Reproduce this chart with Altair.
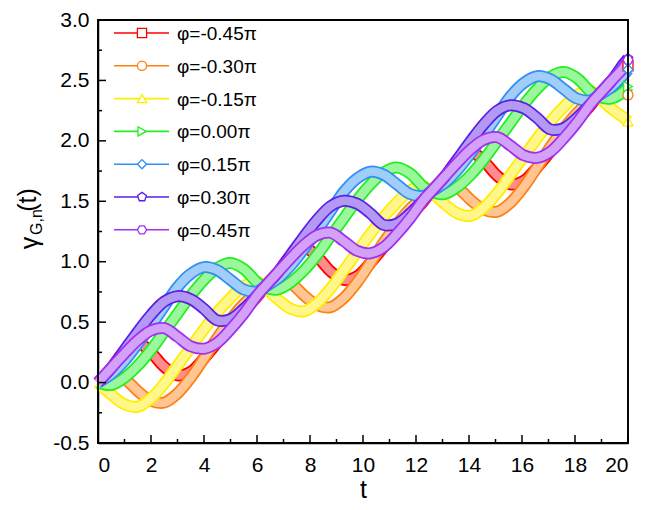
import altair as alt
import pandas as pd

# ---------------- data ----------------
T = [0, 0.5, 1, 1.5, 2, 2.5, 3, 3.5, 4, 4.5, 5, 5.5, 6,
     6.28, 6.78, 7.28, 7.78, 8.28, 8.78, 9.28, 9.78, 10.28, 10.78, 11.28, 11.78, 12.28,
     12.57, 13.07, 13.57, 14.07, 14.57, 15.07, 15.57, 16.07, 16.57, 17.07, 17.57, 18.07, 18.57,
     18.85, 19.35, 19.85, 20.0]

G_m045 = [0, 0.12, 0.26, 0.33, 0.25, 0.13, 0.06, 0.09, 0.20, 0.33, 0.46, 0.59, 0.71,
          0.79, 0.91, 1.05, 1.12, 1.04, 0.92, 0.85, 0.88, 0.99, 1.12, 1.25, 1.38, 1.50,
          1.58, 1.70, 1.84, 1.91, 1.83, 1.71, 1.64, 1.67, 1.78, 1.91, 2.04, 2.17, 2.29,
          2.37, 2.49, 2.60, 2.62]
G_m030 = [0, 0.06, 0.03, -0.07, -0.15, -0.165, -0.09, 0.04, 0.20, 0.37, 0.52, 0.65, 0.75,
          0.79, 0.85, 0.82, 0.72, 0.64, 0.625, 0.70, 0.83, 0.99, 1.16, 1.31, 1.44, 1.54,
          1.58, 1.64, 1.61, 1.51, 1.43, 1.415, 1.49, 1.62, 1.78, 1.95, 2.10, 2.23, 2.33,
          2.37, 2.43, 2.40, 2.38]
G_m015 = [0, -0.10, -0.18, -0.20, -0.13, -0.01, 0.14, 0.29, 0.44, 0.58, 0.70, 0.80, 0.835,
          0.79, 0.69, 0.61, 0.59, 0.66, 0.78, 0.93, 1.08, 1.23, 1.37, 1.49, 1.59, 1.625,
          1.58, 1.48, 1.40, 1.38, 1.45, 1.57, 1.72, 1.87, 2.02, 2.16, 2.28, 2.38, 2.415,
          2.37, 2.27, 2.19, 2.16]
G_000 = [0, -0.02, 0.04, 0.14, 0.27, 0.42, 0.57, 0.72, 0.85, 0.95, 0.99, 0.94, 0.83,
         0.79, 0.77, 0.83, 0.93, 1.06, 1.21, 1.36, 1.51, 1.64, 1.74, 1.78, 1.73, 1.62,
         1.58, 1.56, 1.62, 1.72, 1.85, 2.00, 2.15, 2.30, 2.43, 2.53, 2.57, 2.52, 2.41,
         2.37, 2.35, 2.41, 2.45]
G_015 = [0, 0.07, 0.18, 0.32, 0.47, 0.63, 0.79, 0.90, 0.955, 0.93, 0.85, 0.77, 0.755,
         0.79, 0.86, 0.97, 1.11, 1.26, 1.42, 1.58, 1.69, 1.745, 1.72, 1.64, 1.56, 1.545,
         1.58, 1.65, 1.76, 1.90, 2.05, 2.21, 2.37, 2.48, 2.535, 2.51, 2.43, 2.35, 2.335,
         2.37, 2.44, 2.55, 2.59]
G_030 = [0, 0.12, 0.27, 0.42, 0.56, 0.67, 0.715, 0.69, 0.61, 0.515, 0.525, 0.61, 0.72,
         0.79, 0.91, 1.06, 1.21, 1.35, 1.46, 1.505, 1.48, 1.40, 1.305, 1.315, 1.40, 1.51,
         1.58, 1.70, 1.85, 2.00, 2.14, 2.25, 2.295, 2.27, 2.19, 2.095, 2.105, 2.19, 2.30,
         2.37, 2.49, 2.64, 2.68]
G_045 = [0, 0.12, 0.24, 0.35, 0.43, 0.45, 0.38, 0.30, 0.28, 0.33, 0.44, 0.57, 0.72,
         0.79, 0.91, 1.03, 1.14, 1.22, 1.24, 1.17, 1.09, 1.07, 1.12, 1.23, 1.36, 1.51,
         1.58, 1.70, 1.82, 1.93, 2.01, 2.03, 1.96, 1.88, 1.86, 1.91, 2.02, 2.15, 2.30,
         2.37, 2.49, 2.61, 2.67]

labels = ["φ=-0.45π", "φ=-0.30π", "φ=-0.15π", "φ=0.00π", "φ=0.15π", "φ=0.30π", "φ=0.45π"]
series = [G_m045, G_m030, G_m015, G_000, G_015, G_030, G_045]

X_MAJOR = [0, 2, 4, 6, 8, 10, 12, 14, 16, 18, 20]
X_MINOR = [1, 3, 5, 7, 9, 11, 13, 15, 17, 19]
Y_MAJOR = [-0.5, 0.0, 0.5, 1.0, 1.5, 2.0, 2.5, 3.0]
Y_MINOR = [-0.25, 0.25, 0.75, 1.25, 1.75, 2.25, 2.75]

# ---------------- style ----------------
colors = ["#FF0000", "#FF7F10", "#FFEE00", "#22EE22", "#3090F5", "#5A1EE6", "#A030F0"]
PENT = "M0,-1L0.951,-0.309L0.588,0.809L-0.588,0.809L-0.951,-0.309Z"
HEX = "M-0.5,-0.866L0.5,-0.866L1,0L0.5,0.866L-0.5,0.866L-1,0Z"
shapes = ["square", "circle", "triangle-up", "triangle-right", "diamond", PENT, HEX]

FONT = "Liberation Sans"
W, H = 530, 423
MAJ, MIN = 8, 4

xscale = alt.Scale(domain=[0, 20], nice=False, zero=False)
yscale = alt.Scale(domain=[-0.5, 3.0], nice=False, zero=False)

xaxis = alt.Axis(title="t", values=X_MAJOR, format="d", ticks=False, grid=False,
                 domain=True, domainColor="#000000", domainWidth=1.5,
                 labelFontSize=21, labelFont=FONT, labelColor="#000000", labelPadding=11,
                 titleFontSize=25, titleFont=FONT, titleFontWeight="normal",
                 titleColor="#000000", titlePadding=2)
yaxis = alt.Axis(title=None, values=Y_MAJOR, ticks=False, grid=False,
                 labelExpr="datum.value < 0 ? '-' + format(-datum.value, '.1f') : format(datum.value, '.1f')",
                 domain=True, domainColor="#000000", domainWidth=1.5,
                 labelFontSize=21, labelFont=FONT, labelColor="#000000", labelPadding=9)

layers = []
for col, vals in zip(colors, series):
    df = pd.DataFrame({"t": T, "g": vals})
    base = alt.Chart(df).encode(
        x=alt.X("t:Q", scale=xscale, axis=xaxis),
        y=alt.Y("g:Q", scale=yscale, axis=yaxis),
    )
    layers.append(base.mark_line(color=col, strokeWidth=12, interpolate="catmull-rom",
                                 strokeJoin="round"))
    layers.append(base.mark_line(color="white", strokeWidth=8.5, opacity=0.55,
                                 interpolate="catmull-rom", strokeJoin="round"))

# end markers at t = 20
for col, shp, vals in zip(colors, shapes, series):
    df = pd.DataFrame({"t": [T[-1]], "g": [vals[-1]]})
    layers.append(alt.Chart(df).mark_point(shape=shp, filled=True, fill="white", stroke=col,
                                           strokeWidth=1.3, size=100, opacity=1).encode(
        x=alt.X("t:Q", scale=xscale, axis=xaxis),
        y=alt.Y("g:Q", scale=yscale, axis=yaxis)))

# inward ticks (major and minor)
def xticks(vals, length):
    return alt.Chart(pd.DataFrame({"v": vals})).mark_tick(
        color="#000000", thickness=1.5, size=length, yOffset=-length / 2, opacity=1).encode(
        x=alt.X("v:Q", scale=xscale, axis=xaxis), y=alt.value(H))

def yticks(vals, length):
    return alt.Chart(pd.DataFrame({"v": vals})).mark_tick(
        color="#000000", thickness=1.5, size=length, xOffset=length / 2, opacity=1,
        orient="horizontal").encode(
        y=alt.Y("v:Q", scale=yscale, axis=yaxis), x=alt.value(0))

layers += [xticks(X_MAJOR, MAJ), xticks(X_MINOR, MIN), yticks(Y_MAJOR, MAJ), yticks(Y_MINOR, MIN)]

# frame
layers.append(alt.Chart(pd.DataFrame({"k": [0]})).mark_rect(
    fill="white", fillOpacity=0, stroke="#000000", strokeWidth=1.8, opacity=1).encode(
    x=alt.value(0), x2=alt.value(W), y=alt.value(0), y2=alt.value(H)))

# legend (top-left, inside the frame)
LEG_Y0, LEG_DY = 13, 32.8
for i, (lab, col, shp) in enumerate(zip(labels, colors, shapes)):
    yy = LEG_Y0 + i * LEG_DY
    d = pd.DataFrame({"label": [lab]})
    layers.append(alt.Chart(d).mark_rule(color=col, strokeWidth=1.6).encode(
        x=alt.value(16), x2=alt.value(71), y=alt.value(yy)))
    layers.append(alt.Chart(d).mark_point(shape=shp, filled=True, fill="white", stroke=col,
                                          strokeWidth=1.3, size=85, opacity=1).encode(
        x=alt.value(44), y=alt.value(yy)))
    layers.append(alt.Chart(d).mark_text(align="left", baseline="middle", fontSize=19,
                                         font=FONT, color="black").encode(
        x=alt.value(79), y=alt.value(yy + 1), text="label:N"))

# y-axis title gamma_{G,n}(t)
layers.append(alt.Chart(pd.DataFrame({"s": ["γ"]})).mark_text(
    angle=270, fontSize=25, font=FONT, color="black", align="center", baseline="middle").encode(
    x=alt.value(-68), y=alt.value(223), text="s:N"))
layers.append(alt.Chart(pd.DataFrame({"s": ["G,n"]})).mark_text(
    angle=270, fontSize=16, font=FONT, color="black", align="center", baseline="middle").encode(
    x=alt.value(-61), y=alt.value(202), text="s:N"))
layers.append(alt.Chart(pd.DataFrame({"s": ["(t)"]})).mark_text(
    angle=270, fontSize=25, font=FONT, color="black", align="center", baseline="middle").encode(
    x=alt.value(-70), y=alt.value(180), text="s:N"))

chart = alt.layer(*layers).properties(
    width=W, height=H,
    background="white",
    autosize=alt.AutoSizeParams(type="none"),
    padding={"left": 90, "top": 12, "right": 12, "bottom": 59},
).configure_view(stroke="#000000", strokeWidth=1.5)

chart.save("out.html", embed_options={"renderer": "svg", "actions": False})
